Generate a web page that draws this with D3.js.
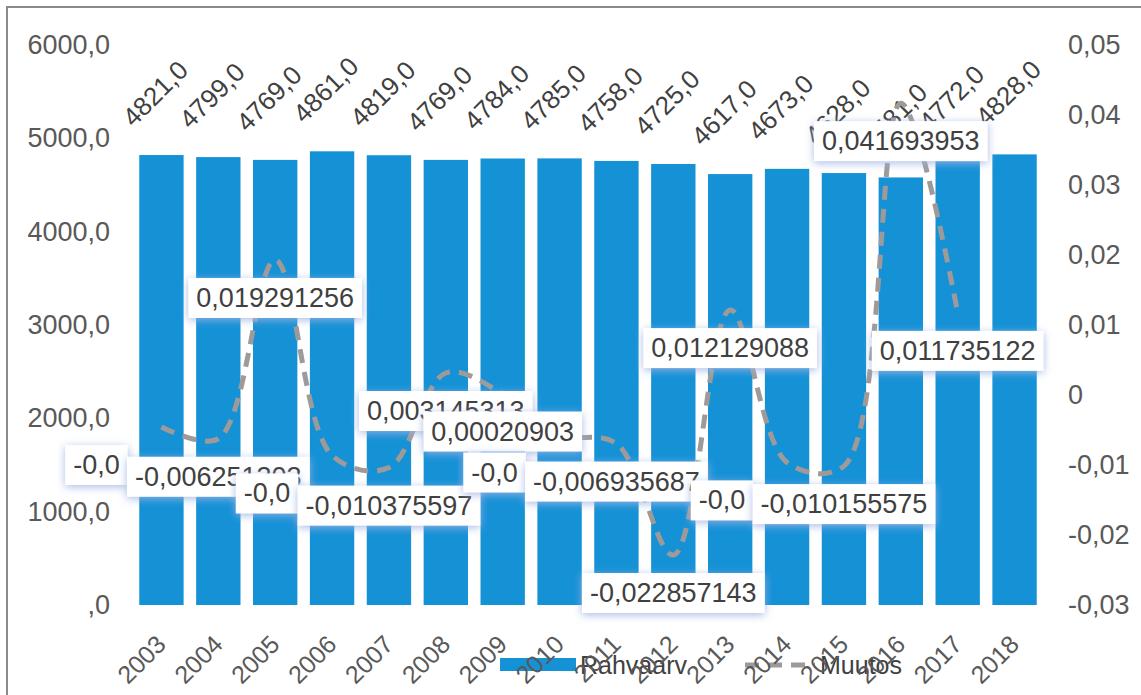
<!DOCTYPE html>
<html>
<head>
<meta charset="utf-8">
<script src="https://cdn.jsdelivr.net/npm/d3@7"></script>
<style>
  html, body { margin: 0; padding: 0; background: #fff; }
  svg { display: block; font-family: 'Liberation Sans', Arial, sans-serif; }
</style>
</head>
<body>
<svg id="chart" width="1141" height="695"></svg>
<script>
// Data
const years = ['2003', '2004', '2005', '2006', '2007', '2008', '2009', '2010',
  '2011', '2012', '2013', '2014', '2015', '2016', '2017', '2018'];
const rahvaarv = [4821, 4799, 4769, 4861, 4819, 4769, 4784, 4785,
  4758, 4725, 4617, 4673, 4628, 4581, 4772, 4828];
const muutosYears = years.slice(0, 15);
const muutos = [-0.004563, -0.006251303, 0.019291256, -0.008640, -0.010375597,
  0.003145313, 0.00020903, -0.005643, -0.006935687, -0.022857143,
  0.012129088, -0.009630, -0.010155575, 0.041693953, 0.011735122];
const muutosLabels = ['-0,0', '-0,006251303', '0,019291256', '-0,0', '-0,010375597',
  '0,003145313', '0,00020903', '-0,0', '-0,006935687', '-0,022857143',
  '0,012129088', '-0,0', '-0,010155575', '0,041693953', '0,011735122'];
const leftTicks = [0, 1000, 2000, 3000, 4000, 5000, 6000];
const rightTicks = [-0.03, -0.02, -0.01, 0, 0.01, 0.02, 0.03, 0.04, 0.05];
const seriesNames = ['Rahvaarv', 'Muutos'];

const svg = d3.select('#chart');
const barColor = '#1591d6';
const lineColor = '#9e9a99';
const axisColor = '#595959';

// outer frame
svg.append('rect')
  .attr('x', 7).attr('y', 7)
  .attr('width', 1150).attr('height', 700)
  .attr('fill', 'none').attr('stroke', '#8a8a8a').attr('stroke-width', 2);

const defs = svg.append('defs');
const glow = defs.append('filter').attr('id', 'glow')
  .attr('x', '-10%').attr('y', '-40%').attr('width', '120%').attr('height', '180%');
glow.append('feDropShadow')
  .attr('dx', 0).attr('dy', 2).attr('stdDeviation', 4)
  .attr('flood-color', '#9fb3e3').attr('flood-opacity', 0.9);

// Scales
const x = d3.scaleBand()
  .domain(years)
  .range([133, 1043])
  .paddingInner(0.22)
  .paddingOuter(0.11);

const yLeft = d3.scaleLinear().domain([0, 6000]).range([605, 45]);
const yRight = d3.scaleLinear().domain([-0.03, 0.05]).range([605, 45]);

// Bars
svg.append('g').selectAll('rect')
  .data(years)
  .enter()
  .append('rect')
  .attr('x', d => x(d))
  .attr('y', (d, i) => yLeft(rahvaarv[i]))
  .attr('width', x.bandwidth())
  .attr('height', (d, i) => yLeft(0) - yLeft(rahvaarv[i]))
  .attr('fill', barColor);

// Bar value labels, rotated
svg.append('g').selectAll('text')
  .data(years)
  .enter()
  .append('text')
  .attr('transform', (d, i) => {
    const cx = x(d) + x.bandwidth() / 2 - 28;
    const cy = yLeft(rahvaarv[i]) - 27;
    return `translate(${cx},${cy}) rotate(-45)`;
  })
  .attr('font-size', 26)
  .attr('fill', '#404040')
  .text((d, i) => rahvaarv[i].toFixed(1).replace('.', ','));

// Muutos line
const line = d3.line()
  .x((d, i) => x(muutosYears[i]) + x.bandwidth() / 2)
  .y(d => yRight(d))
  .curve(d3.curveCatmullRom.alpha(0.5));

svg.append('path')
  .datum(muutos)
  .attr('d', line)
  .attr('fill', 'none')
  .attr('stroke', lineColor)
  .attr('stroke-width', 5)
  .attr('stroke-dasharray', '14 9');

// Line labels with white boxes
const labelGroup = svg.append('g');
muutos.forEach((v, i) => {
  const label = muutosLabels[i];
  const px = x(muutosYears[i]) + x.bandwidth() / 2;
  const py = yRight(v);
  const cx = label.length <= 4 ? px - 65 : px;
  const cy = py + 38;
  const g = labelGroup.append('g');
  const t = g.append('text')
    .attr('x', cx).attr('y', cy)
    .attr('text-anchor', 'middle')
    .attr('dominant-baseline', 'central')
    .attr('font-size', 27)
    .attr('fill', '#404040')
    .text(label);
  const w = t.node().getComputedTextLength();
  g.insert('rect', 'text')
    .attr('x', cx - w / 2 - 8)
    .attr('y', cy - 20)
    .attr('width', w + 16)
    .attr('height', 40)
    .attr('fill', '#ffffff')
    .attr('filter', 'url(#glow)');
});

// Left axis
const leftAxis = svg.append('g')
  .attr('transform', 'translate(110,0)')
  .call(d3.axisLeft(yLeft)
    .tickValues(leftTicks)
    .tickSize(0)
    .tickPadding(0)
    .tickFormat(d => d === 0 ? ',0' : d.toFixed(1).replace('.', ',')));
leftAxis.select('.domain').remove();
leftAxis.selectAll('text')
  .attr('font-size', 27)
  .attr('font-family', 'Liberation Sans, Arial, sans-serif')
  .attr('fill', axisColor);

// Right axis
const rightAxis = svg.append('g')
  .attr('transform', 'translate(1068,0)')
  .call(d3.axisRight(yRight)
    .tickValues(rightTicks)
    .tickSize(0)
    .tickPadding(0)
    .tickFormat(d => Math.abs(d) < 1e-9 ? '0' : d.toFixed(2).replace('.', ',')));
rightAxis.select('.domain').remove();
rightAxis.selectAll('text')
  .attr('font-size', 27)
  .attr('font-family', 'Liberation Sans, Arial, sans-serif')
  .attr('fill', axisColor);

// Legend
const legend = svg.append('g');
legend.append('rect')
  .attr('x', 500).attr('y', 658)
  .attr('width', 76).attr('height', 13)
  .attr('fill', barColor);
legend.append('text')
  .attr('x', 580).attr('y', 674)
  .attr('font-size', 25)
  .attr('fill', '#404040')
  .text(seriesNames[0]);
legend.append('line')
  .attr('x1', 745).attr('x2', 815)
  .attr('y1', 665).attr('y2', 665)
  .attr('stroke', lineColor)
  .attr('stroke-width', 5)
  .attr('stroke-dasharray', '14 9');
legend.append('text')
  .attr('x', 820).attr('y', 674)
  .attr('font-size', 25)
  .attr('fill', '#404040')
  .text(seriesNames[1]);

// X axis labels
const xAxis = svg.append('g')
  .attr('transform', 'translate(0,612)')
  .call(d3.axisBottom(x).tickSize(0).tickPadding(0));
xAxis.select('.domain').remove();
xAxis.selectAll('text')
  .attr('font-size', 25)
  .attr('font-family', 'Liberation Sans, Arial, sans-serif')
  .attr('fill', axisColor)
  .attr('text-anchor', 'end')
  .attr('dy', 0)
  .attr('transform', 'translate(6,34) rotate(-45)');
</script>
</body>
</html>
